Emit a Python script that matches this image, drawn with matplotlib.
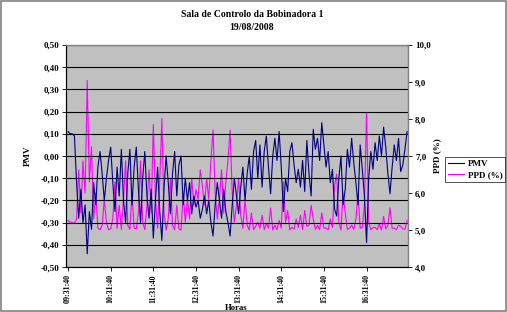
import matplotlib
matplotlib.use("Agg")
import matplotlib.pyplot as plt
from matplotlib.patches import Rectangle

# PMV e PPD, amostras de 3 em 3 minutos a partir das 09:31:40
pmv = [0.11, 0.10, 0.10, 0.09, -0.12, -0.28, -0.15, -0.30, -0.22, -0.44,
       -0.25, -0.33, -0.12, -0.22, -0.05, 0.02, -0.08, -0.20, -0.10, -0.02,
       0.04, -0.12, -0.25, -0.05, -0.18, 0.03, -0.20, -0.30, -0.08, 0.03,
       -0.22, -0.05, 0.04, -0.15, -0.30, -0.10, 0.02, -0.18, -0.28, -0.15,
       -0.37, -0.20, -0.05, -0.25, -0.38, -0.15, 0.00, -0.12, -0.26, -0.08,
       0.02, -0.18, -0.04, 0.00, -0.22, -0.10, -0.20, -0.12, -0.26, -0.18,
       -0.23, -0.20, -0.28, -0.24, -0.18, -0.26, -0.20, -0.30, -0.36, -0.22,
       -0.12, -0.20, -0.28, -0.15, -0.25, -0.30, -0.36, -0.22, -0.10, -0.18,
       -0.26, -0.14, -0.05, -0.20, -0.08, 0.00, -0.15, 0.02, 0.07, -0.10,
       0.05, -0.14, 0.02, 0.09, -0.05, -0.17, 0.00, 0.08, -0.02, 0.11,
       -0.05, -0.25, -0.10, -0.16, 0.02, 0.06, -0.04, -0.12, -0.06, -0.14,
       -0.02, -0.16, 0.07, -0.08, -0.18, 0.12, 0.03, 0.08, -0.02, 0.15,
       0.05, -0.05, 0.02, -0.12, -0.06, -0.24, -0.27, -0.10, 0.00, -0.22,
       -0.15, 0.03, -0.05, 0.08, -0.03, -0.12, -0.22, 0.05, -0.06, -0.18,
       -0.39, -0.10, 0.02, -0.06, 0.06, -0.02, 0.09, 0.00, 0.13, 0.04,
       -0.08, -0.17, -0.05, 0.05, -0.02, 0.08, -0.07, -0.04, 0.03, 0.11]

ppd = [5.26, 5.21, 5.21, 5.18, 5.30, 6.63, 5.46, 6.87, 6.00, 9.04,
       6.30, 7.25, 5.30, 6.00, 5.05, 5.01, 5.13, 5.83, 5.21, 5.01,
       5.03, 5.30, 6.30, 5.05, 5.67, 5.02, 5.83, 6.87, 5.13, 5.02,
       6.00, 5.05, 5.03, 5.46, 6.87, 5.21, 5.01, 5.67, 6.63, 5.46,
       7.85, 5.83, 5.05, 6.30, 8.01, 5.46, 5.00, 5.30, 6.40, 5.13,
       5.01, 5.67, 5.03, 5.00, 6.00, 5.21, 5.83, 5.30, 6.40, 5.67,
       6.09, 5.83, 6.63, 6.19, 5.67, 6.40, 5.83, 6.87, 7.70, 6.00,
       5.30, 5.83, 6.63, 5.46, 6.30, 6.87, 7.70, 6.00, 5.21, 5.67,
       6.40, 5.40, 5.05, 5.83, 5.13, 5.00, 5.46, 5.01, 5.10, 5.21,
       5.05, 5.40, 5.01, 5.18, 5.05, 5.60, 5.00, 5.13, 5.01, 5.26,
       5.05, 6.30, 5.21, 5.53, 5.01, 5.07, 5.03, 5.30, 5.07, 5.40,
       5.01, 5.53, 5.10, 5.13, 5.67, 5.30, 5.02, 5.13, 5.01, 5.46,
       5.05, 5.05, 5.01, 5.30, 5.07, 6.19, 6.51, 5.21, 5.00, 6.00,
       5.46, 5.02, 5.05, 5.13, 5.02, 5.30, 6.00, 5.05, 5.07, 5.67,
       8.17, 5.21, 5.01, 5.07, 5.07, 5.01, 5.18, 5.00, 5.37, 5.03,
       5.13, 5.60, 5.05, 5.05, 5.01, 5.13, 5.10, 5.03, 5.02, 5.26]

hour_labels = ["09:31:40", "10:31:40", "11:31:40", "12:31:40",
               "13:31:40", "14:31:40", "15:31:40", "16:31:40"]
pmv_ticks = [-0.5, -0.4, -0.3, -0.2, -0.1, 0.0, 0.1, 0.2, 0.3, 0.4, 0.5]
ppd_ticks = [4, 5, 6, 7, 8, 9, 10]

plt.rcParams['font.family'] = ['Liberation Serif', 'DejaVu Serif']
plt.rcParams['font.weight'] = 'bold'

fig = plt.figure(figsize=(5.07, 3.12), dpi=100)
fig.patches.append(Rectangle((0.002, 0.003), 0.996, 0.994, transform=fig.transFigure,
                             fill=False, edgecolor='#808080', linewidth=1.2))
# grey plot area behind both lines
fig.patches.append(Rectangle((0.130, 0.144), 0.675, 0.712, transform=fig.transFigure,
                             facecolor='#C0C0C0', edgecolor='none', zorder=-1))

ax = fig.add_axes([0.130, 0.144, 0.675, 0.712])
x = list(range(len(pmv)))
ax.plot(x, pmv, color='#000080', linewidth=0.8, label='PMV', zorder=3)

ax.set_ylim(-0.5, 0.5)
ax.set_xlim(-1, len(pmv) - 0.5)
ax.set_yticks(pmv_ticks)
ax.set_yticklabels([("%.2f" % v).replace('.', ',') for v in pmv_ticks], fontsize=6.5, fontweight='bold')
ax.set_xticks(range(0, 160, 20))
ax.set_xticklabels(hour_labels, rotation=90, fontsize=5.8, fontweight='bold')
ax.tick_params(axis='both', length=3, width=0.6, pad=2)
ax.grid(axis='y', color='black', linewidth=0.8, zorder=1)
ax.set_axisbelow(True)
for s in ax.spines.values():
    s.set_color('#808080')
    s.set_linewidth(0.8)
ax.spines['left'].set_color('black')
ax.spines['bottom'].set_color('black')

ax2 = ax.twinx()
ax2.plot(x, ppd, color='#FF00FF', linewidth=0.8, label='PPD (%)', zorder=2)
ax2.set_ylim(4, 10)
ax2.set_yticks(ppd_ticks)
ax2.set_yticklabels([("%.1f" % v).replace('.', ',') for v in ppd_ticks], fontsize=6.5, fontweight='bold')
ax2.tick_params(axis='y', length=3, width=0.6, pad=2)
ax.set_zorder(ax2.get_zorder() + 1)
ax.patch.set_visible(False)
ax2.patch.set_visible(False)

ax.set_ylabel('PMV', fontsize=6.5, fontweight='bold', labelpad=6)
ax2.set_ylabel('PPD (%)', fontsize=6.5, fontweight='bold', rotation=90, labelpad=2)
fig.text(0.465, 0.014, 'Horas', ha='center', va='center', fontsize=6.2, fontweight='bold')

fig.text(0.497, 0.952, 'Sala de Controlo da Bobinadora 1', ha='center', va='center',
         fontsize=7, fontweight='bold')
fig.text(0.497, 0.913, '19/08/2008', ha='center', va='center',
         fontsize=7, fontweight='bold')

h1, l1 = ax.get_legend_handles_labels()
h2, l2 = ax2.get_legend_handles_labels()
leg = fig.legend(h1 + h2, l1 + l2, loc='center left', bbox_to_anchor=(0.878, 0.456),
                 fontsize=6.5, frameon=True, fancybox=False, handlelength=1.8,
                 borderpad=0.3, labelspacing=0.3, handletextpad=0.4, borderaxespad=0)
leg.get_frame().set_edgecolor('black')
leg.get_frame().set_linewidth(0.6)

fig.savefig('out.png', dpi=100)
